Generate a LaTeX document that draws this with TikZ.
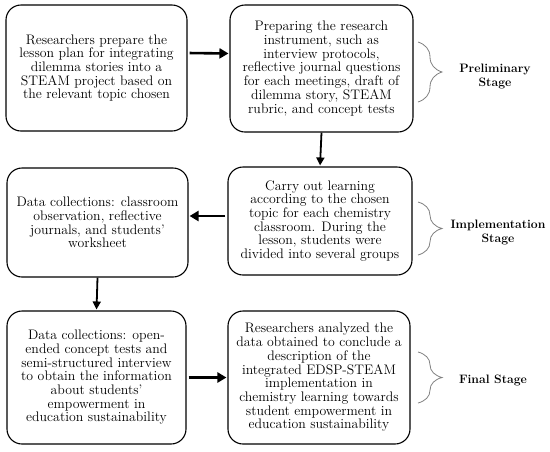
\documentclass[tikz,border=0pt]{standalone}
\usetikzlibrary{arrows.meta,decorations.pathreplacing}
\begin{document}
\begin{tikzpicture}[x=1pt,y=-1pt,
  stepbox/.style={draw,line width=1.1pt,rounded corners=15pt,align=center,inner sep=0pt,
    font=\fontsize{13.8}{13.7}\selectfont},
  harrow/.style={line width=2.6pt,-{Triangle[length=9pt,width=10pt]},shorten <=2pt,shorten >=1pt},
  varrow/.style={line width=1.8pt,-{Triangle[length=8pt,width=8pt]},shorten >=1pt},
  stagebrace/.style={draw=black!50,line width=0.8pt,decorate,decoration={brace,amplitude=24pt,aspect=0.5}},
  stagelabel/.style={font=\bfseries\fontsize{12.2}{14}\selectfont,align=center}]
\useasboundingbox (0,0) rectangle (550,451);
\node[stepbox,minimum width=181pt,minimum height=126pt] (b1) at (96.5,68)
  {Researchers prepare the\\lesson plan for integrating\\dilemma stories into a\\STEAM project based on\\the relevant topic chosen};
\node[stepbox,minimum width=183pt,minimum height=127pt] (b2) at (321.5,68.5)
  {Preparing the research\\instrument, such as\\interview protocols,\\reflective journal questions\\for each meetings, draft of\\dilemma story, STEAM\\rubric, and concept tests};
\node[stepbox,minimum width=184pt,minimum height=108pt] (b3) at (320,221)
  {Carry out learning\\according to the chosen\\topic for each chemistry\\classroom. During the\\lesson, students were\\divided into several groups};
\node[stepbox,minimum width=181pt,minimum height=109pt] (b4) at (97.5,222.5)
  {Data collections: classroom\\observation, reflective\\journals, and students'\\worksheet};
\node[stepbox,minimum width=179pt,minimum height=133pt] (b5) at (96.5,377.5)
  {Data collections: open-\\ended concept tests and\\semi-structured interview\\to obtain the information\\about students'\\empowerment in\\education sustainability};
\node[stepbox,minimum width=182pt,minimum height=133pt] (b6) at (319,377.5)
  {Researchers analyzed the\\data obtained to conclude a\\description of the\\integrated EDSP-STEAM\\implementation in\\chemistry learning towards\\student empowerment in\\education sustainability};
\draw[harrow] ([yshift=15pt]b1.east) -- ([yshift=15pt]b2.west);
\draw[varrow] (b2.south) -- (b3.north);
\draw[harrow] ([yshift=5pt]b3.west) -- ([yshift=5pt]b3.west -| b4.east);
\draw[varrow] (b4.south) -- (b5.north);
\draw[harrow] (b5.east) -- (b6.west);
\coordinate (p1) at (418,42); \coordinate (p2) at (418,102);
\coordinate (i1) at (418,202); \coordinate (i2) at (418,255);
\coordinate (f1) at (418,352); \coordinate (f2) at (418,403);
\path[stagebrace] (p1) -- (p2);
\path[stagebrace] (i1) -- (i2);
\path[stagebrace] (f1) -- (f2);
\node[stagelabel] (s1) at (495,76) {Preliminary\\Stage};
\node[stagelabel] (s2) at (498,232) {Implementation\\Stage};
\node[stagelabel] (s3) at (493,380) {Final Stage};
\end{tikzpicture}
\end{document}
